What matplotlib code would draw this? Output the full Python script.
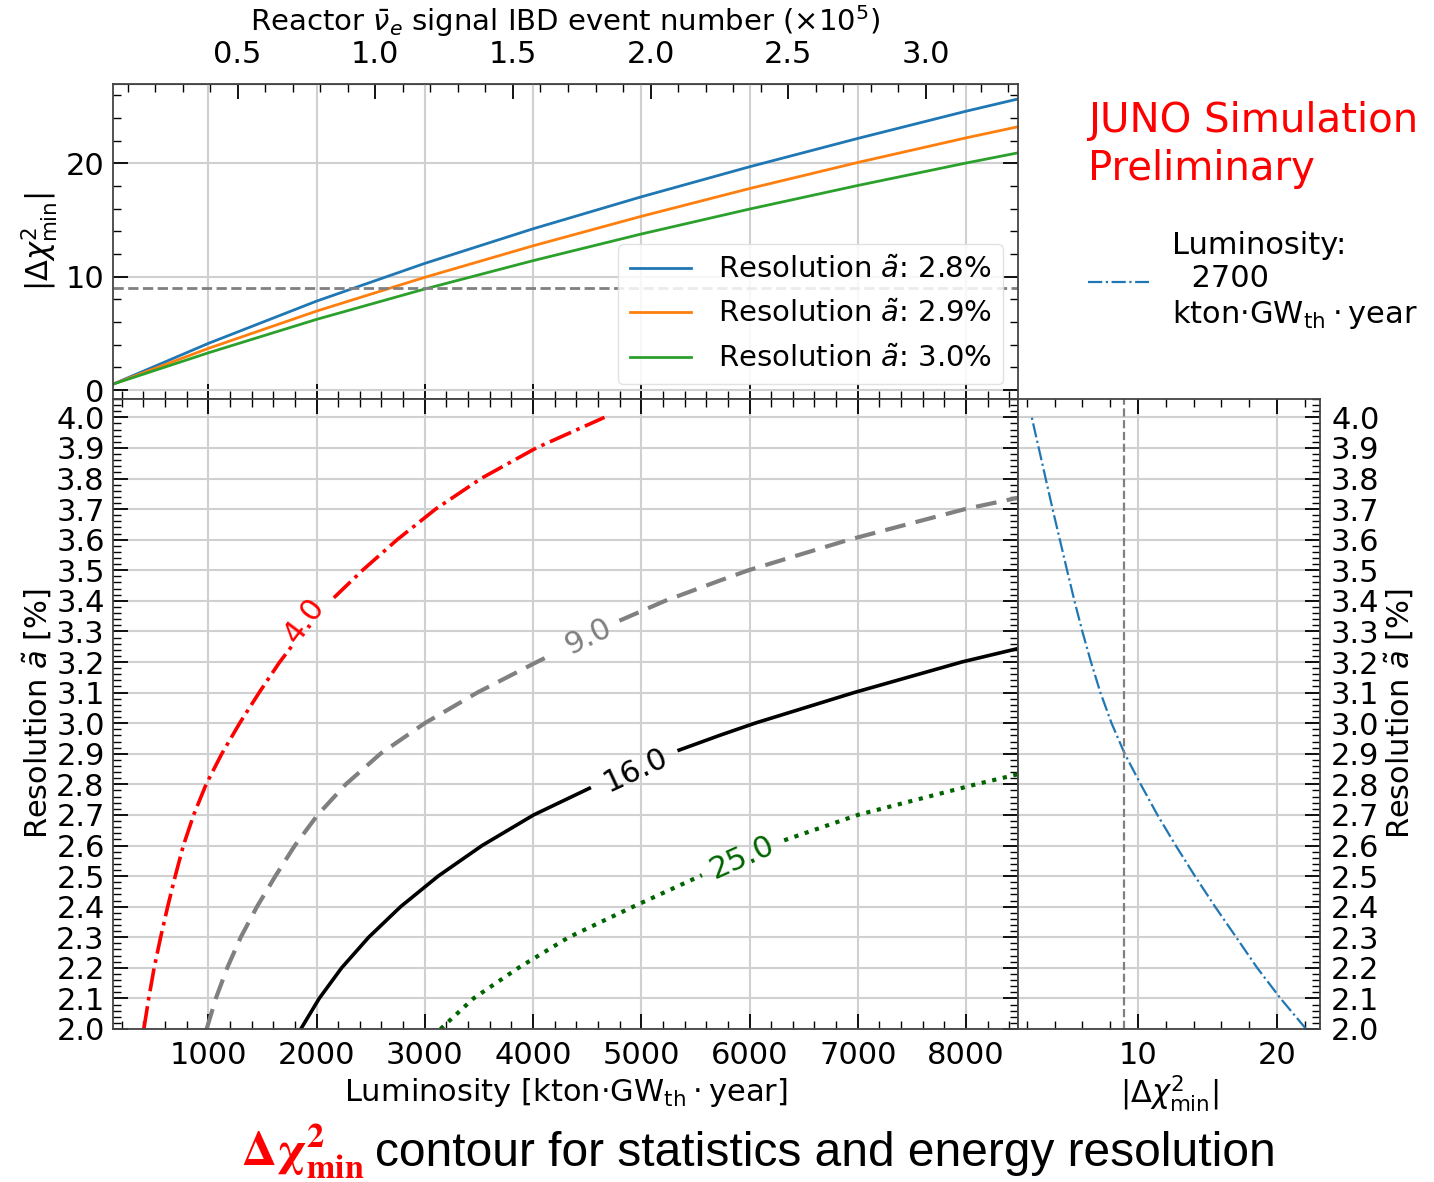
import numpy as np
import matplotlib.pyplot as plt
from matplotlib.ticker import MultipleLocator

plt.rcParams['font.family'] = 'DejaVu Sans'
plt.rcParams['mathtext.fontset'] = 'dejavusans'

# top panel: |dchi2_min| vs luminosity for three resolutions
lum_top = [120, 1000, 2000, 3000, 4000, 5000, 6000, 7000, 8000, 8480]
chi2_28 = [0.53, 4.12, 7.85, 11.18, 14.23, 17.05, 19.7, 22.2, 24.6, 25.68]
chi2_29 = [0.53, 3.68, 6.97, 9.95, 12.73, 15.33, 17.78, 20.08, 22.25, 23.23]
chi2_30 = [0.53, 3.29, 6.24, 8.92, 11.42, 13.77, 15.97, 18.05, 20.03, 20.93]
res_names = ['2.8', '2.9', '3.0']
chi2_cut = 9
lum_per_evt = 2543.0  # kton*GW*year per 1e5 IBD events

# contour lines (nan = gap where the label sits)
c4_lum = [405, 450, 500, 560, 625, 695, 770, 865, 980, 1125, 1290, 1470, 1660, 1790,
          np.nan, 2160, 2425, 2745, 3100, 3520, 4030, 4660]
c4_res = [2.0, 2.1, 2.2, 2.3, 2.4, 2.5, 2.6, 2.7, 2.8, 2.9, 3.0, 3.1, 3.2, 3.26,
          np.nan, 3.41, 3.5, 3.6, 3.7, 3.8, 3.9, 4.0]
c9_lum = [985, 1070, 1175, 1300, 1450, 1620, 1800, 2010, 2270, 2590, 3000, 3485, 4035, 4190,
          np.nan, 4798, 5220, 5723, 5990, 6920, 7990, 8480]
c9_res = [2.0, 2.1, 2.2, 2.3, 2.4, 2.5, 2.6, 2.7, 2.8, 2.9, 3.0, 3.1, 3.2, 3.227,
          np.nan, 3.335, 3.4, 3.466, 3.5, 3.6, 3.7, 3.737]
c16_lum = [1855, 2025, 2232, 2482, 2777, 3124, 3530, 4006, 4520,
           np.nan, 5350, 5723, 6050, 6965, 7960, 8480]
c16_res = [2.0, 2.1, 2.2, 2.3, 2.4, 2.5, 2.6, 2.7, 2.787,
           np.nan, 2.912, 2.96, 3.0, 3.1, 3.2, 3.244]
c25_lum = [3145, 3450, 3865, 4330, 4925, 5560, np.nan, 6320, 7000, 8090, 8480]
c25_res = [2.0, 2.1, 2.2, 2.3, 2.4, 2.503, np.nan, 2.617, 2.7, 2.8, 2.833]
levels = ['4.0', '9.0', '16.0', '25.0']
lab_lum = [1892, 4505, 4950, 5930]
lab_res = [3.337, 3.284, 2.846, 2.562]
lab_rot = [53, 26, 25, 24]

# right panel: |dchi2_min| vs resolution at fixed luminosity
res_side = [2.0, 2.1, 2.2, 2.3, 2.4, 2.5, 2.6, 2.7, 2.8, 2.9, 3.0,
            3.1, 3.2, 3.3, 3.4, 3.5, 3.6, 3.7, 3.8, 3.9, 4.0]
chi2_side = [22.1, 20.26, 18.58, 17.07, 15.55, 14.1, 12.72, 11.4, 10.2, 9.05, 8.1,
             7.3, 6.62, 6.0, 5.43, 4.9, 4.38, 3.86, 3.36, 2.86, 2.36]
lum_fixed = 2700

W, H = 1434, 1182
fig = plt.figure(figsize=(W / 100, H / 100), dpi=100)


def rect(l, t, r, b):
    return [l / W, 1 - b / H, (r - l) / W, (b - t) / H]


ax_top = fig.add_axes(rect(113, 84, 1018, 399))
ax_main = fig.add_axes(rect(113, 399, 1018, 1029))
ax_side = fig.add_axes(rect(1018, 399, 1320, 1029))


def style(ax):
    ax.grid(True, which='major', color='#d0d0d0', lw=1.5)
    ax.tick_params(which='both', direction='in', labelsize=22)
    ax.tick_params(which='major', length=11, width=1.3)
    ax.tick_params(which='minor', length=6, width=1)
    for s in ax.spines.values():
        s.set_color('#444444')
        s.set_linewidth(1.3)


for ax in (ax_top, ax_main, ax_side):
    style(ax)

# ---- top panel
for vals, r, c in zip([chi2_28, chi2_29, chi2_30], res_names, ['C0', 'C1', 'C2']):
    ax_top.plot(lum_top, vals, color=c, lw=2, label=r'Resolution $\tilde{a}$: ' + r + '%')
ax_top.axhline(chi2_cut, color='gray', ls='--', lw=2)
ax_top.set_xlim(120, 8480)
ax_top.set_ylim(-0.78, 27.0)
ax_top.xaxis.set_major_locator(MultipleLocator(1000))
ax_top.xaxis.set_minor_locator(MultipleLocator(200))
ax_top.yaxis.set_major_locator(MultipleLocator(10))
ax_top.yaxis.set_minor_locator(MultipleLocator(2))
ax_top.tick_params(axis='x', which='both', top=False, labelbottom=False)
ax_top.tick_params(axis='y', which='both', right=True, pad=6)
ax_top.set_ylabel(r'$|\Delta\chi^2_{\rm min}|$', fontsize=22, labelpad=4)
ax_top.legend(loc='lower right', fontsize=21, handlelength=2.1, handletextpad=0.9,
              labelspacing=0.56, framealpha=0.85, edgecolor='#dddddd')

sec = ax_top.secondary_xaxis('top', functions=(lambda x: x / lum_per_evt,
                                               lambda e: e * lum_per_evt))
sec.xaxis.set_major_locator(MultipleLocator(0.5))
sec.xaxis.set_minor_locator(MultipleLocator(0.1))
sec.tick_params(which='both', direction='in', labelsize=22, pad=11)
sec.tick_params(which='major', length=11, width=1.3)
sec.tick_params(which='minor', length=6, width=1)
sec.spines['top'].set_color('#444444')
sec.set_xlabel(r'Reactor $\bar{\nu}_e$ signal IBD event number ($\times10^5$)',
               fontsize=21, labelpad=6)

# ---- contour panel
ax_main.plot(c4_lum, c4_res, color='red', ls='-.', lw=2.6)
ax_main.plot(c9_lum, c9_res, color='gray', ls=(0, (5, 2.5)), lw=3)
ax_main.plot(c16_lum, c16_res, color='black', ls='-', lw=2.6)
ax_main.plot(c25_lum, c25_res, color='darkgreen', ls=(0, (1, 1.6)), lw=3)
for lv, x, y, rot, c in zip(levels, lab_lum, lab_res, lab_rot,
                            ['red', 'gray', 'black', 'darkgreen']):
    ax_main.text(x, y, lv, color=c, fontsize=22, rotation=rot, ha='center', va='center',
                 rotation_mode='anchor')
ax_main.set_xlim(120, 8480)
ax_main.set_ylim(2.0, 4.06)
ax_main.xaxis.set_minor_locator(MultipleLocator(200))
ax_main.yaxis.set_major_locator(MultipleLocator(0.1))
ax_main.yaxis.set_minor_locator(MultipleLocator(0.02))
ax_main.tick_params(axis='x', which='both', top=True, pad=9)
ax_main.tick_params(axis='y', which='both', right=True, pad=6)
ax_main.set_xticks([1000, 2000, 3000, 4000, 5000, 6000, 7000, 8000])
ax_main.set_xlabel(r'Luminosity [kton$\cdot$GW$_{\rm th}\cdot$year]', fontsize=22, labelpad=4)
ax_main.set_ylabel(r'Resolution $\tilde{a}$ [%]', fontsize=22, labelpad=2)

# ---- side panel
side_line, = ax_side.plot(chi2_side, res_side, color='C0', ls='-.', lw=1.6,
                          label='Luminosity:\n  %d\nkton$\\cdot$GW$_{\\rm th}\\cdot$year' % lum_fixed)
ax_side.axvline(chi2_cut, color='gray', ls='--', lw=1.6)
ax_side.set_xlim(1.37, 23.1)
ax_side.set_ylim(2.0, 4.06)
ax_side.xaxis.set_minor_locator(MultipleLocator(2))
ax_side.set_xticks([10, 20])
ax_side.yaxis.set_major_locator(MultipleLocator(0.1))
ax_side.yaxis.set_minor_locator(MultipleLocator(0.02))
ax_side.tick_params(axis='x', which='both', top=True, pad=9)
ax_side.tick_params(axis='y', which='both', left=False, right=True, labelleft=False,
                    labelright=True, pad=8)
ax_side.yaxis.set_label_position('right')
ax_side.set_ylabel(r'Resolution $\tilde{a}$ [%]', fontsize=22, labelpad=2)
ax_side.set_xlabel(r'$|\Delta\chi^2_{\rm min}|$', fontsize=22, labelpad=2)

fig.legend(handles=[side_line], loc='center left', bbox_to_anchor=(1088 / W, 1 - 281 / H),
           frameon=False, fontsize=22, handlelength=2.0, handletextpad=0.75,
           borderpad=0, borderaxespad=0)

fig.text(1088 / W, 1 - 101 / H, 'JUNO Simulation\nPreliminary', color='red', fontsize=29,
         ha='left', va='top', linespacing=1.25)

fig.text(365 / W, 16 / H, r'$\mathbf{\Delta\chi^2_{min}}$', color='red', fontsize=35,
         ha='right', va='baseline', math_fontfamily='stix')
fig.text(375 / W, 16 / H, 'contour for statistics and energy resolution', color='black',
         fontsize=34.5, family='Liberation Sans', ha='left', va='baseline')

fig.savefig('out.png', dpi=100)
